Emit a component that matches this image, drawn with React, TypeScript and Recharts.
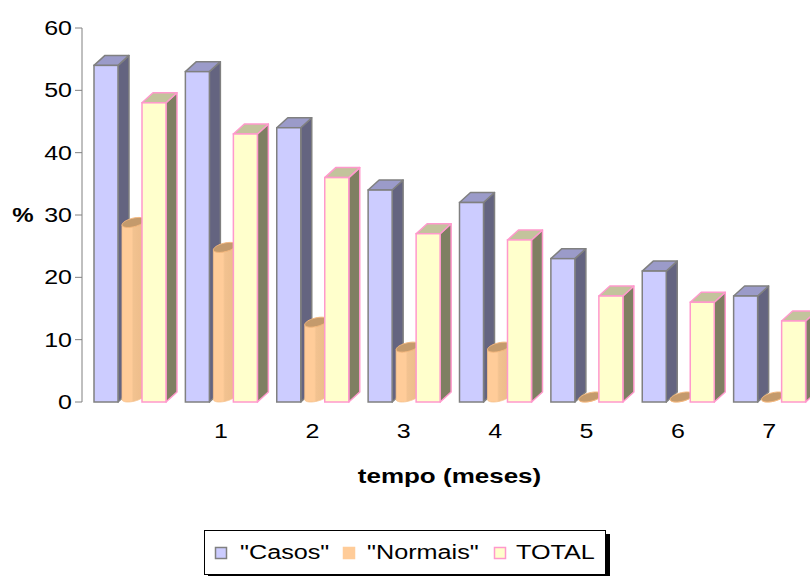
import React from "react";
import { BarChart, Bar, XAxis, YAxis } from "recharts";

// Percentages per month of follow-up
const months = ["", "1", "2", "3", "4", "5", "6", "7"];
const casos = [54, 53, 44, 34, 32, 23, 21, 17];
const normais = [28, 24, 12, 8, 8, 0, 0, 0];
const total = [48, 43, 36, 27, 26, 17, 16, 13];
const yTicks = [0, 10, 20, 30, 40, 50, 60];

const data = months.map((m, i) => ({
  month: m,
  casos: casos[i],
  normais: normais[i],
  total: total[i],
}));

const FONT = "'Liberation Sans', Arial, sans-serif";
const DX = 11; // 3D depth offset, horizontal
const DY = 10; // 3D depth offset, vertical

type PrismColors = { face: string; side: string; top: string; edge: string };

const prismShape = (c: PrismColors) => (props: any) => {
  const { x, y, width, height } = props;
  if (width == null || height == null) return <g />;
  const x0 = x;
  const x1 = x + width;
  const y0 = y;
  const y1 = y + height;
  return (
    <g>
      <polygon
        points={`${x1},${y1} ${x1 + DX},${y1 - DY} ${x1 + DX},${y0 - DY} ${x1},${y0}`}
        fill={c.side}
        stroke={c.edge}
        strokeWidth={1.5}
        strokeLinejoin="round"
      />
      <polygon
        points={`${x0},${y0} ${x0 + DX},${y0 - DY} ${x1 + DX},${y0 - DY} ${x1},${y0}`}
        fill={c.top}
        stroke={c.edge}
        strokeWidth={1.5}
        strokeLinejoin="round"
      />
      <rect x={x0} y={y0} width={width} height={height} fill={c.face} stroke={c.edge} strokeWidth={1.5} />
    </g>
  );
};

const casosShape = prismShape({ face: "#CCCCFF", side: "#646480", top: "#9B9BC9", edge: "#808080" });
const totalShape = prismShape({ face: "#FFFFCC", side: "#7F7F62", top: "#C3C39C", edge: "#FF99CC" });

// Cylinder bar: oblique projection of a circle inscribed in the depth parallelogram
const cylinderShape = (props: any) => {
  const { x, y, width, height, index } = props;
  if (width == null || height == null) return <g />;
  const ax = 10;
  const bx = DX / 2;
  const by = -DY / 2;
  const R = Math.sqrt(ax * ax + bx * bx);
  const cx = x + 4 + R;
  const base = y + height;
  const topCy = y - DY / 2;
  const botCy = base - DY / 2;
  const tStar = Math.atan2(bx, ax);
  const pt = (cy: number, t: number) => [cx + ax * Math.cos(t) + bx * Math.sin(t), cy + by * Math.sin(t)];
  const N = 48;
  const topPts: number[][] = [];
  for (let i = 0; i <= N; i++) topPts.push(pt(topCy, (2 * Math.PI * i) / N));
  const arcPts: number[][] = [];
  for (let i = 0; i <= N; i++) arcPts.push(pt(botCy, Math.PI + tStar + (Math.PI * i) / N));
  const lTop = pt(topCy, Math.PI + tStar);
  const rTop = pt(topCy, tStar);
  const body =
    `M${lTop[0]},${lTop[1]} ` +
    arcPts.map((p) => `L${p[0]},${p[1]}`).join(" ") +
    ` L${rTop[0]},${rTop[1]} Z`;
  const topPath = "M" + topPts.map((p) => `${p[0]},${p[1]}`).join(" L") + " Z";
  const gid = `cyl-grad-${index}`;
  return (
    <g>
      <defs>
        <linearGradient id={gid} gradientUnits="userSpaceOnUse" x1={cx - R} y1={0} x2={cx + R} y2={0}>
          <stop offset="0" stopColor="#FFCC99" />
          <stop offset="0.42" stopColor="#FFCC99" />
          <stop offset="0.5" stopColor="#F2C290" />
          <stop offset="1" stopColor="#ECBB88" />
        </linearGradient>
      </defs>
      <path d={body} fill={`url(#${gid})`} stroke="#F6C08A" strokeWidth={0.8} />
      <path d={topPath} fill="#C49A6C" stroke="#F4B77D" strokeWidth={1} />
    </g>
  );
};

const YTick = (props: any) => {
  const { x, y, payload } = props;
  return (
    <g transform={`translate(${x},${y}) scale(1.25,1)`}>
      <text x={0} y={0} dy={7} textAnchor="end" fontFamily={FONT} fontSize={20} fill="#000">
        {payload.value}
      </text>
    </g>
  );
};

const XTick = (props: any) => {
  const { x, y, payload } = props;
  return (
    <g transform={`translate(${x},${y}) scale(1.25,1)`}>
      <text x={0} y={0} dy={36} textAnchor="middle" fontFamily={FONT} fontSize={20} fill="#000">
        {payload.value}
      </text>
    </g>
  );
};

const PercentTitle = (props: any) => {
  const vb = props.viewBox || { x: 0, y: 0, width: 0, height: 0 };
  return (
    <g transform={`translate(${vb.x + 23},${vb.y + vb.height / 2}) scale(1.2,1)`}>
      <text x={0} y={0} dy={7} textAnchor="middle" fontFamily={FONT} fontWeight="bold" fontSize={20} fill="#000">
        %
      </text>
    </g>
  );
};

const TimeTitle = (props: any) => {
  const vb = props.viewBox || { x: 0, y: 0, width: 0, height: 0 };
  return (
    <g transform={`translate(${vb.x + vb.width / 2 + 1},${vb.y + 81}) scale(1.3,1)`}>
      <text x={0} y={0} textAnchor="middle" fontFamily={FONT} fontWeight="bold" fontSize={20} fill="#000">
        tempo (meses)
      </text>
    </g>
  );
};

const legendItems = [
  { name: "\"Casos\"", fill: "#CCCCFF", stroke: "#808080", mx: 10, tx: 35 },
  { name: "\"Normais\"", fill: "#FFCC99", stroke: "#FFCC99", mx: 138, tx: 162 },
  { name: "TOTAL", fill: "#FFFFCC", stroke: "#FF99CC", mx: 289, tx: 311 },
];

export default function App() {
  return (
    <div
      style={{
        position: "absolute",
        left: 0,
        top: 0,
        width: 810,
        height: 576,
        overflow: "hidden",
        background: "#fff",
      }}
    >
      <BarChart
        width={830}
        height={576}
        data={data}
        margin={{ top: 28, right: 15, bottom: 0, left: 0 }}
        barSize={24}
        barGap={0}
      >
        <XAxis
          dataKey="month"
          axisLine={false}
          tickLine={false}
          tickSize={0}
          tickMargin={0}
          height={174}
          padding={{ left: 2, right: 0 }}
          tick={<XTick />}
          interval={0}
          label={<TimeTitle />}
        />
        <YAxis
          domain={[0, 60]}
          ticks={yTicks}
          width={82}
          axisLine={{ stroke: "#808080", strokeWidth: 1 }}
          tickLine={{ stroke: "#808080", strokeWidth: 1 }}
          tickSize={7}
          tickMargin={3}
          tick={<YTick />}
          label={<PercentTitle />}
        />
        <Bar dataKey="casos" name="&quot;Casos&quot;" isAnimationActive={false} shape={casosShape} />
        <Bar dataKey="normais" name="&quot;Normais&quot;" isAnimationActive={false} shape={cylinderShape} />
        <Bar dataKey="total" name="TOTAL" isAnimationActive={false} shape={totalShape} />
      </BarChart>
      <div
        style={{
          position: "absolute",
          left: 204,
          top: 530,
          width: 400,
          height: 43,
          border: "1px solid #000",
          boxShadow: "4px 4px 0 #000",
          background: "#fff",
        }}
      >
        <svg width={400} height={43} style={{ display: "block" }}>
          {legendItems.map((it) => (
            <g key={it.name}>
              <rect x={it.mx + 0.5} y={16.5} width={11} height={11} fill={it.fill} stroke={it.stroke} strokeWidth={1.5} />
              <g transform={`translate(${it.tx},28) scale(1.2,1)`}>
                <text x={0} y={0} fontFamily={FONT} fontSize={21} fill="#000">
                  {it.name}
                </text>
              </g>
            </g>
          ))}
        </svg>
      </div>
    </div>
  );
}
